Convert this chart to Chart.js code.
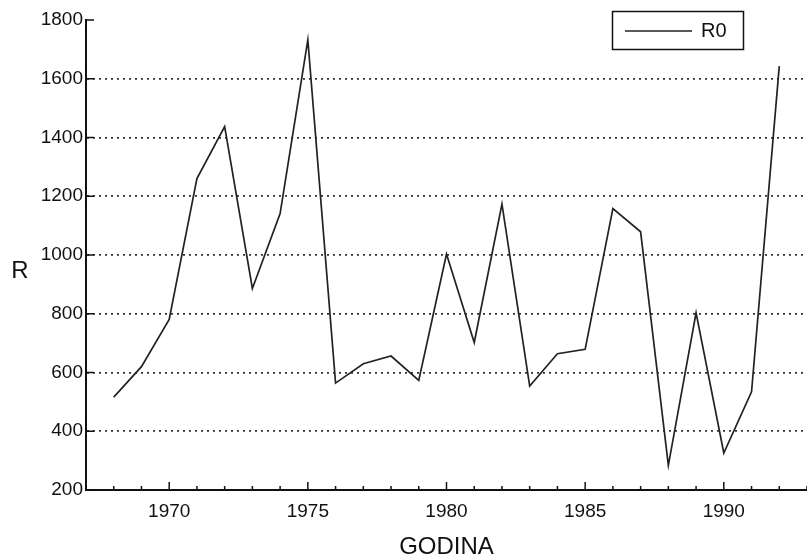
<!DOCTYPE html>
<html><head><meta charset="utf-8">
<script src="https://cdn.jsdelivr.net/npm/chart.js@4"></script>
<style>html,body{margin:0;padding:0;background:#fff}#wrap{width:807px;height:555px}</style>
</head><body><div id="wrap"><canvas id="c" width="807" height="555"></canvas></div>
<script>
const years = [1968,1969,1970,1971,1972,1973,1974,1975,1976,1977,1978,1979,1980,1981,1982,1983,1984,1985,1986,1987,1988,1989,1990,1991,1992];
const r0 = [516,620,781,1260,1437,886,1141,1732,564,630,656,573,1003,702,1173,554,664,679,1158,1079,284,803,326,534,1643];
const yTicks = [200,400,600,800,1000,1200,1400,1600,1800];
const xLabelYears = [1970,1975,1980,1985,1990];
const seriesLabel = 'R0';
const xTitle = 'GODINA';
const yTitle = 'R';

const FONT = '"Liberation Sans", Arial, sans-serif';

const decor = {
  id: 'decor',
  afterDraw(chart) {
    const ctx = chart.ctx;
    const xs = chart.scales.x, ys = chart.scales.y;
    const ca = chart.chartArea;
    ctx.save();
    ctx.strokeStyle = '#111';
    ctx.lineWidth = 1.5;
    ys.ticks.forEach(t => {
      const y = ys.getPixelForValue(t.value);
      ctx.beginPath(); ctx.moveTo(ca.left, y); ctx.lineTo(ca.left + 8, y); ctx.stroke();
    });
    xs.ticks.forEach(t => {
      const x = xs.getPixelForValue(t.value);
      const len = xLabelYears.includes(t.value) ? 8 : 4;
      ctx.beginPath(); ctx.moveTo(x, ca.bottom); ctx.lineTo(x, ca.bottom - len); ctx.stroke();
    });
    ctx.fillStyle = '#111';
    ctx.font = '24px ' + FONT;
    ctx.textAlign = 'center'; ctx.textBaseline = 'middle';
    ctx.fillText(yTitle, 20, 271);
    const ds = chart.data.datasets[0];
    const bx = 612.5, by = 11.5, bw = 131, bh = 38;
    ctx.lineWidth = 1.5;
    ctx.strokeStyle = '#111';
    ctx.strokeRect(bx, by, bw, bh);
    ctx.strokeStyle = ds.borderColor; ctx.lineWidth = ds.borderWidth;
    ctx.beginPath(); ctx.moveTo(625, 31); ctx.lineTo(692, 31); ctx.stroke();
    ctx.font = '20px ' + FONT;
    ctx.textAlign = 'left';
    ctx.fillText(ds.label, 701, 31);
    ctx.restore();
  }
};

new Chart(document.getElementById('c'), {
  type: 'line',
  data: {
    datasets: [{
      label: seriesLabel,
      data: years.map((y, i) => ({x: y, y: r0[i]})),
      borderColor: '#222',
      borderWidth: 1.7,
      pointRadius: 0,
      tension: 0,
      fill: false
    }]
  },
  options: {
    responsive: false,
    devicePixelRatio: 1,
    animation: false,
    layout: {padding: {top: 20, right: 0, bottom: 0, left: 0}},
    plugins: {legend: {display: false}, tooltip: {enabled: false}},
    scales: {
      x: {
        type: 'linear', min: 1967, max: 1993,
        grid: {display: false, drawTicks: false},
        border: {display: true, color: '#111', width: 2},
        ticks: {
          stepSize: 1, autoSkip: false, maxRotation: 0, padding: 10,
          color: '#111', font: {family: FONT, size: 19},
          callback: v => xLabelYears.includes(v) ? String(v) : ''
        },
        title: {display: true, text: xTitle, color: '#111', font: {family: FONT, size: 24, lineHeight: 0.6}, padding: 0},
        afterFit(s) { s.height = 65; s.paddingLeft = 0; s.paddingRight = 0; }
      },
      y: {
        type: 'linear', min: 200, max: 1800,
        afterBuildTicks(s) { s.ticks = yTicks.map(v => ({value: v})); },
        grid: {
          drawTicks: false,
          color: c => (c.tick && (c.tick.value === 200 || c.tick.value === 1800)) ? 'rgba(0,0,0,0)' : '#333',
          lineWidth: 1.8
        },
        border: {display: true, color: '#111', width: 2, dash: [2, 4]},
        ticks: {padding: 3, color: '#111', font: {family: FONT, size: 19}, callback: v => String(v)},
        afterFit(s) { s.width = 86; }
      }
    }
  },
  plugins: [decor]
});
</script>
</body></html>
